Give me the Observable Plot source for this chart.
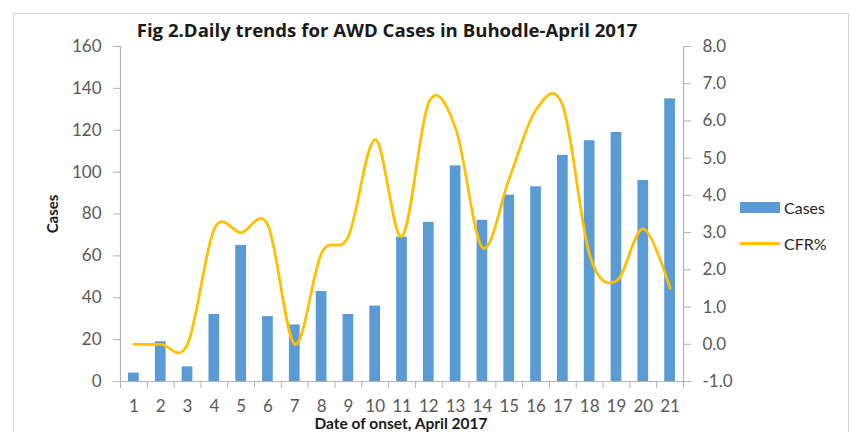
<!DOCTYPE html>
<html>
<head>
<meta charset="utf-8">
<script src="https://cdn.jsdelivr.net/npm/d3@7"></script>
<script src="https://cdn.jsdelivr.net/npm/@observablehq/plot@0.6"></script>
<style>
  html, body { margin: 0; padding: 0; background: #fff; overflow: hidden; }
  #wrap { position: relative; width: 851px; height: 432px; font-family: Lato, "Open Sans", sans-serif; }
  #border { position: absolute; left: 13px; top: 13px; width: 836px; height: 440px; border: 1.5px solid #d4d4d4; box-sizing: border-box; }
  #title { position: absolute; left: 0; width: 774px; top: 20px; line-height: 20px; text-align: center; font-family: "Open Sans", Lato, sans-serif; font-weight: 700; font-size: 18.6px; color: #1a1a1a; white-space: nowrap; }
  #ylab { position: absolute; left: 52px; top: 214px; transform: translate(-50%, -50%) rotate(-90deg); font-weight: 700; font-size: 15px; color: #1a1a1a; white-space: nowrap; }
  #xlab { position: absolute; left: 0; width: 802px; top: 415px; line-height: 16px; text-align: center; font-weight: 700; font-size: 15.5px; color: #1a1a1a; white-space: nowrap; }
  .leg { position: absolute; left: 740px; font-size: 16px; color: #262626; display: flex; align-items: center; height: 20px; }
  .leg .sw { width: 40px; margin-right: 4px; }
  #plot { position: absolute; left: 0; top: 0; }
</style>
</head>
<body>
<div id="wrap">
  <div id="border"></div>
  <div id="plot"></div>
  <div id="title">Fig 2.Daily trends for AWD Cases in Buhodle-April 2017</div>
  <div id="ylab">Cases</div>
  <div id="xlab">Date of onset, April 2017</div>
  <div class="leg" style="top:197px"><div class="sw" style="height:11px;background:#5B9BD5"></div>Cases</div>
  <div class="leg" style="top:233px"><div class="sw" style="height:3px;background:#FFC000"></div>CFR%</div>
</div>
<script>
const days = [1,2,3,4,5,6,7,8,9,10,11,12,13,14,15,16,17,18,19,20,21];
const cases = [4,19,7,32,65,31,27,43,32,36,69,76,103,77,89,93,108,115,119,96,135];
const cfr = [0,0,0,3.1,3.0,3.2,0,2.45,2.9,5.5,2.9,6.5,5.8,2.6,4.45,6.3,6.4,2.4,1.7,3.1,1.5];
const leftTicks = [0,20,40,60,80,100,120,140,160];
const rightTicks = [-1,0,1,2,3,4,5,6,7,8];

const L0 = 0, L1 = 160, R0 = -1, R1 = 8;
const toLeft = v => L0 + (v - R0) * (L1 - L0) / (R1 - R0);
const fromLeft = v => R0 + (v - L0) * (R1 - R0) / (L1 - L0);

const data = days.map((d, i) => ({day: d, cases: cases[i], cfr: cfr[i]}));
const bounds = [...days.map(d => d - 0.5), days[days.length - 1] + 0.5];

const axisColor = "#b3b3b3";
const textColor = "#595959";
const halfBar = 0.2;

const chart = Plot.plot({
  width: 851,
  height: 432,
  marginLeft: 120,
  marginRight: 168,
  marginTop: 46,
  marginBottom: 51,
  style: {fontFamily: "Lato, 'Open Sans', sans-serif", background: "transparent", overflow: "visible"},
  x: {type: "linear", domain: [bounds[0], bounds[bounds.length - 1]]},
  y: {domain: [L0, L1]},
  marks: [
    Plot.rectY(data, {x1: d => d.day - halfBar, x2: d => d.day + halfBar, y1: 0, y2: "cases", fill: "#5B9BD5"}),
    Plot.ruleX([bounds[0]], {stroke: axisColor, strokeWidth: 1.2}),
    Plot.ruleX([bounds[bounds.length - 1]], {stroke: axisColor, strokeWidth: 1.2}),
    Plot.ruleY([L0], {stroke: axisColor, strokeWidth: 1.2}),
    Plot.axisY({ticks: leftTicks, tickSize: 7, tickPadding: 12, stroke: axisColor, fill: textColor, fontSize: 17, label: null}),
    Plot.axisY({anchor: "right", ticks: rightTicks.map(toLeft), tickFormat: d => (Math.round(fromLeft(d) * 10) / 10).toFixed(1), tickSize: 7, tickPadding: 12, stroke: axisColor, fill: textColor, fontSize: 17, label: null}),
    Plot.axisX({ticks: bounds, tickSize: 7, tickFormat: () => "", stroke: axisColor, label: null}),
    Plot.axisX({ticks: days, tickSize: 0, tickPadding: 18, tickFormat: d => String(d), fill: textColor, fontSize: 17, label: null}),
    Plot.line(data, {x: "day", y: d => toLeft(d.cfr), stroke: "#FFC000", strokeWidth: 2.8, curve: "cardinal"})
  ]
});
document.getElementById("plot").appendChild(chart);
</script>
</body>
</html>
